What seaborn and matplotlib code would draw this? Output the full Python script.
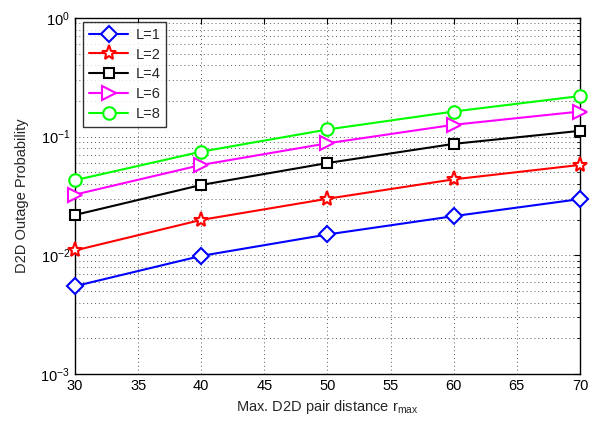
import matplotlib
matplotlib.use("Agg")
import matplotlib.pyplot as plt
import seaborn as sns
import numpy as np
import pandas as pd
from matplotlib.ticker import LogLocator, FixedLocator, NullFormatter

# ---- data ----
r_max = [30, 40, 50, 60, 70]
labels = ["L=1", "L=2", "L=4", "L=6", "L=8"]
L1 = [0.0055, 0.0099, 0.0150, 0.0214, 0.0298]
L2 = [0.0110, 0.0199, 0.0300, 0.0437, 0.0578]
L4 = [0.0219, 0.0392, 0.0600, 0.0870, 0.112]
L6 = [0.0325, 0.0578, 0.0880, 0.126, 0.163]
L8 = [0.0430, 0.0748, 0.115, 0.163, 0.220]
series = [L1, L2, L4, L6, L8]
x_ticks = [30, 35, 40, 45, 50, 55, 60, 65, 70]

colors = ["#0000ff", "#ff0000", "#000000", "#ff00ff", "#00ff00"]
markers = ["D", "*", "s", ">", "o"]
msizes = [8.5, 11, 7, 9.5, 9]

sns.set_style("white")
plt.rcParams["font.family"] = ["Liberation Sans", "DejaVu Sans"]
plt.rcParams["mathtext.fontset"] = "custom"
plt.rcParams["mathtext.rm"] = "Liberation Sans"
plt.rcParams["mathtext.it"] = "Liberation Sans:italic"
plt.rcParams["mathtext.bf"] = "Liberation Sans:bold"

fig = plt.figure(figsize=(5.98, 4.23), dpi=100)
ax = fig.add_axes([0.1254, 0.1158, 0.8445, 0.8416])

df = pd.DataFrame({"r": r_max * len(labels),
                   "p": np.concatenate(series),
                   "L": np.repeat(labels, len(r_max))})

for lab, c, m, ms in zip(labels, colors, markers, msizes):
    sub = df[df["L"] == lab]
    sns.lineplot(data=sub, x="r", y="p", ax=ax, color=c, marker=m,
                 markersize=ms, mfc="white", mec=c, mew=1.5, lw=1.5,
                 label=lab, clip_on=False, zorder=3)

ax.set_yscale("log")
ax.set_xlim(30, 70)
ax.set_ylim(1e-3, 1)
ax.xaxis.set_major_locator(FixedLocator(x_ticks))
ax.yaxis.set_major_locator(LogLocator(base=10, numticks=10))
ax.yaxis.set_minor_locator(LogLocator(base=10, subs=np.arange(2, 10), numticks=10))
ax.yaxis.set_minor_formatter(NullFormatter())

ax.grid(True, which="major", axis="both", linestyle=(0, (1, 3)), color="0.35", lw=0.7)
ax.grid(True, which="minor", axis="y", linestyle=(0, (1, 3)), color="0.35", lw=0.7)

for s in ax.spines.values():
    s.set_color("black")
    s.set_linewidth(1.0)
ax.tick_params(which="both", direction="in", top=True, right=True, colors="black",
               labelsize=10.5)
ax.tick_params(which="major", length=4)
ax.tick_params(which="minor", length=2)

ax.set_xlabel("Max. D2D pair distance r$_{\\mathregular{max}}$", fontsize=10.5, labelpad=4)
ax.set_ylabel("D2D Outage Probability", fontsize=10.5, labelpad=8)

leg = ax.legend(loc="upper left", bbox_to_anchor=(0.016, 0.989), borderaxespad=0,
                frameon=True, fancybox=False, edgecolor="black", fontsize=10.5,
                handlelength=2.7, handletextpad=0.5, labelspacing=0.4, borderpad=0.4)
leg.get_frame().set_linewidth(1.0)

fig.savefig("out.png", dpi=100)
